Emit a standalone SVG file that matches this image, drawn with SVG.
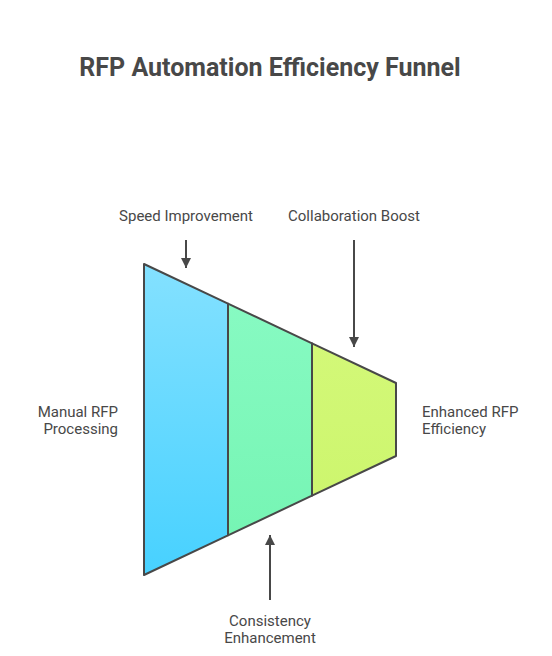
<svg xmlns="http://www.w3.org/2000/svg" width="552" height="656" viewBox="0 0 552 656">
<style>
.t{font-family:Roboto,"Liberation Sans",sans-serif;font-size:15px;fill:#484848}
.title{font-family:Roboto,"Liberation Sans",sans-serif;font-size:25px;font-weight:bold;fill:#484848}
.seg{stroke:#484848;stroke-width:2;stroke-linejoin:round}
.conn{stroke:#484848;stroke-width:2;fill:none}
</style>
<defs>
<linearGradient id="gb" x1="0" y1="0" x2="0" y2="1"><stop offset="0" stop-color="#84E1FF"/><stop offset="1" stop-color="#47D1FF"/></linearGradient>
<linearGradient id="gg" x1="0" y1="0" x2="0" y2="1"><stop offset="0" stop-color="#87FAC2"/><stop offset="1" stop-color="#76F5B4"/></linearGradient>
<linearGradient id="gy" x1="0" y1="0" x2="0" y2="1"><stop offset="0" stop-color="#D3F878"/><stop offset="1" stop-color="#CDF66E"/></linearGradient>
<marker id="ah" viewBox="0 0 10 10" refX="10" refY="5" markerWidth="5" markerHeight="5" orient="auto" markerUnits="strokeWidth"><path d="M0,0 L10,5 L0,10 Z" fill="#484848"/></marker>
</defs>
<rect width="552" height="656" fill="#fff"/>
<text class="title" x="270" y="76" text-anchor="middle">RFP Automation Efficiency Funnel</text>
<g id="stage1"><polygon class="seg" fill="url(#gb)" points="144,264 228,303.7 228,535.3 144,575"/></g>
<g id="stage2"><polygon class="seg" fill="url(#gg)" points="228,303.7 312,343.3 312,495.7 228,535.3"/></g>
<g id="stage3"><polygon class="seg" fill="url(#gy)" points="312,343.3 396,383 396,456 312,495.7"/></g>
<g id="connectors">
<line class="conn" x1="186" y1="240" x2="186" y2="268" marker-end="url(#ah)"/>
<line class="conn" x1="354" y1="240" x2="354" y2="347" marker-end="url(#ah)"/>
<line class="conn" x1="270" y1="600" x2="270" y2="535" marker-end="url(#ah)"/>
</g>
<g id="label-speed"><text class="t" x="186" y="221" text-anchor="middle">Speed Improvement</text></g>
<g id="label-collab"><text class="t" x="354" y="221" text-anchor="middle">Collaboration Boost</text></g>
<g id="label-manual"><text class="t" x="118" y="417" text-anchor="end">Manual RFP</text><text class="t" x="118" y="434" text-anchor="end">Processing</text></g>
<g id="label-enhanced"><text class="t" x="422" y="417">Enhanced RFP</text><text class="t" x="422" y="434">Efficiency</text></g>
<g id="label-consistency"><text class="t" x="270" y="626" text-anchor="middle">Consistency</text><text class="t" x="270" y="643" text-anchor="middle">Enhancement</text></g>
</svg>
